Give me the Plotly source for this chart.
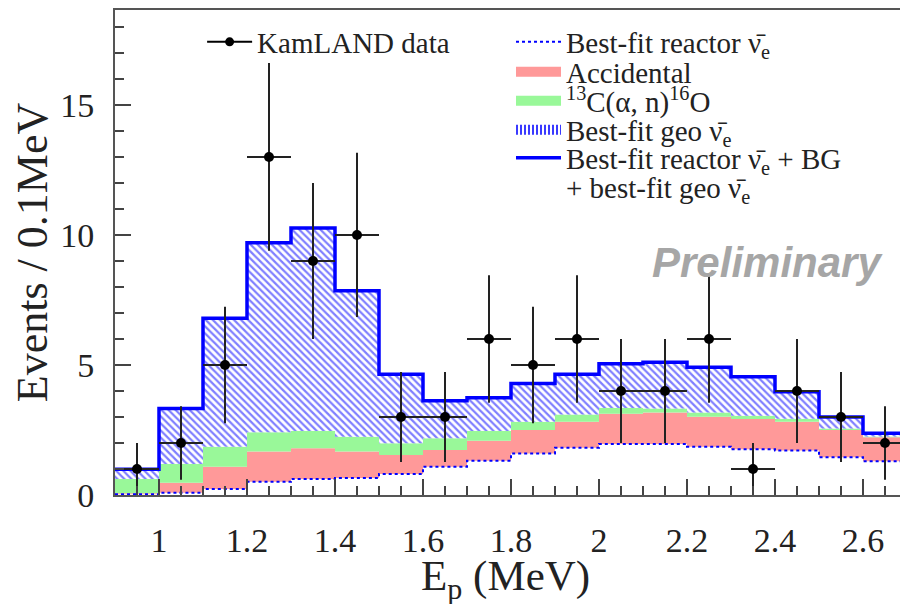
import plotly.graph_objects as go
import numpy as np

# ---- data ----
bin_edges = [0.9, 1.0, 1.1, 1.2, 1.3, 1.4, 1.5, 1.6, 1.7, 1.8, 1.9, 2.0,
             2.1, 2.2, 2.3, 2.4, 2.5, 2.6, 2.7]
bin_centers = [0.95, 1.05, 1.15, 1.25, 1.35, 1.45, 1.55, 1.65, 1.75, 1.85,
               1.95, 2.05, 2.15, 2.25, 2.35, 2.45, 2.55, 2.65]
data_counts = [1, 2, 5, 13, 9, 10, 3, 3, 6, 5, 6, 4, 4, 6, 1, 4, 3, 2]
data_err = [1.0, 1.41, 2.24, 3.61, 3.0, 3.16, 1.73, 1.73, 2.45, 2.24, 2.45,
            2.0, 2.0, 2.45, 1.0, 2.0, 1.73, 1.41]
half_bin = [0.05] * 18

reactor = [0.03, 0.09, 0.23, 0.51, 0.62, 0.65, 0.81, 1.09, 1.32, 1.60, 1.82,
           1.96, 1.96, 1.86, 1.76, 1.71, 1.45, 1.30]
accidental = [0.04, 0.38, 0.86, 1.16, 1.18, 1.02, 0.73, 0.64, 0.77, 0.90, 1.00,
              1.16, 1.21, 1.15, 1.16, 1.11, 1.05, 0.92]
c13 = [0.55, 0.72, 0.77, 0.74, 0.66, 0.57, 0.45, 0.45, 0.37, 0.32, 0.28,
       0.23, 0.16, 0.16, 0.13, 0.11, 0.06, 0.03]
geo = [0.37, 2.14, 4.94, 7.29, 7.81, 5.61, 2.65, 1.44, 1.28, 1.47, 1.54,
       1.70, 1.77, 1.74, 1.50, 1.04, 0.44, 0.12]

x_ticks = [1, 1.2, 1.4, 1.6, 1.8, 2, 2.2, 2.4, 2.6]
y_ticks = [0, 5, 10, 15]

# ---- derived stacks ----
lvl_react = np.array(reactor)
lvl_acc = lvl_react + np.array(accidental)
lvl_c13 = lvl_acc + np.array(c13)
lvl_tot = lvl_c13 + np.array(geo)


def step(vals):
    v = list(vals)
    return v + [v[-1]]


SERIF = "Liberation Serif"
BLUE = "#0000ff"
RED = "#ff9999"
GREEN = "#99f899"
TXT = "#222222"

fig = go.Figure()

# base for the stacked fills
fig.add_trace(go.Scatter(x=bin_edges, y=step(lvl_react), mode="lines",
                         line=dict(width=0, shape="hv"), showlegend=False,
                         hoverinfo="skip"))
fig.add_trace(go.Scatter(x=bin_edges, y=step(lvl_acc), mode="lines",
                         line=dict(width=0, shape="hv"), fill="tonexty",
                         fillcolor=RED, showlegend=False))
fig.add_trace(go.Scatter(x=bin_edges, y=step(lvl_c13), mode="lines",
                         line=dict(width=0, shape="hv"), fill="tonexty",
                         fillcolor=GREEN, showlegend=False))
fig.add_trace(go.Scatter(x=bin_edges, y=step(lvl_tot), mode="lines",
                         line=dict(width=0, shape="hv"), fill="tonexty",
                         fillcolor="white",
                         fillpattern=dict(shape="\\", fgcolor=BLUE,
                                          bgcolor="white", size=5,
                                          solidity=0.45),
                         showlegend=False))
# reactor dashed line
fig.add_trace(go.Scatter(x=bin_edges, y=step(lvl_react), mode="lines",
                         line=dict(width=2, shape="hv", color=BLUE,
                                   dash="dot"),
                         name="Best-fit reactor ν̄<sub>e</sub>",
                         legend="legend2"))
# total line
fig.add_trace(go.Scatter(x=bin_edges, y=step(lvl_tot), mode="lines",
                         line=dict(width=3.5, shape="hv", color=BLUE),
                         name="Best-fit reactor ν̄<sub>e</sub> + BG",
                         legend="legend6"))
# data
fig.add_trace(go.Scatter(x=bin_centers, y=data_counts, mode="markers",
                         marker=dict(color="black", size=10),
                         error_y=dict(type="data", array=data_err,
                                      color=TXT, thickness=2, width=0),
                         error_x=dict(type="data", array=half_bin,
                                      color=TXT, thickness=2, width=0),
                         showlegend=False))

# legend keys (no data of their own)
fig.add_trace(go.Scatter(x=[None], y=[None], mode="lines+markers",
                         line=dict(color="black", width=2),
                         marker=dict(color="black", size=9),
                         name="KamLAND data", legend="legend"))
fig.add_trace(go.Scatter(x=[None], y=[None], mode="lines",
                         line=dict(color=RED, width=20),
                         name="Accidental", legend="legend3"))
fig.add_trace(go.Scatter(x=[None], y=[None], mode="lines",
                         line=dict(color=GREEN, width=20),
                         name="<sup>13</sup>C(α, n)<sup>16</sup>O",
                         legend="legend4"))
fig.add_trace(go.Scatter(x=[None], y=[None], mode="lines",
                         line=dict(color="#3a3aff", width=20, dash="2px,2px"),
                         name="Best-fit geo ν̄<sub>e</sub>",
                         legend="legend5"))
fig.add_trace(go.Scatter(x=[None], y=[None], mode="lines",
                         line=dict(color="white", width=0),
                         name="+ best-fit geo ν̄<sub>e</sub>",
                         legend="legend7"))


def paper_y(py):
    return (495 - py) / 485


def paper_x(px):
    return (px - 115) / 792


def legend_box(x, py):
    return dict(x=x, y=paper_y(py), xanchor="left", yanchor="middle",
                bgcolor="rgba(0,0,0,0)", borderwidth=0, itemwidth=45,
                font=dict(family=SERIF, size=29, color=TXT),
                tracegroupgap=0)


# the page adds an 8px body margin, so the figure is offset by 8px
fig.update_layout(
    width=908, height=604,
    margin=dict(l=107, r=9, t=2, b=117, autoexpand=False),
    paper_bgcolor="white", plot_bgcolor="white",
    font=dict(family=SERIF, color=TXT),
    legend=legend_box(0.11, 42),
    legend2=legend_box(0.50, 42),
    legend3=legend_box(0.50, 72),
    legend4=legend_box(0.50, 101),
    legend5=legend_box(0.50, 130),
    legend6=legend_box(0.50, 158),
    legend7=legend_box(0.50, 187),
    xaxis=dict(range=[0.9, 2.7], tickvals=x_ticks,
               ticktext=[f"{t:g}" for t in x_ticks],
               ticks="inside", ticklen=16, tickwidth=1.5, tickcolor="#444",
               minor=dict(dtick=0.05, tick0=0.9, ticks="inside", ticklen=9,
                          tickwidth=1.5, tickcolor="#444"),
               showline=True, linecolor="#555", linewidth=2, mirror=True,
               showgrid=False, zeroline=False, automargin=False,
               tickfont=dict(family=SERIF, size=34, color=TXT),
               ticklabelstandoff=14),
    yaxis=dict(range=[0, 18.65], tickvals=y_ticks,
               ticks="inside", ticklen=16, tickwidth=1.5, tickcolor="#444",
               minor=dict(dtick=1, tick0=0, ticks="inside", ticklen=9,
                          tickwidth=1.5, tickcolor="#444"),
               showline=True, linecolor="#555", linewidth=2, mirror=True,
               showgrid=False, zeroline=False, automargin=False,
               tickfont=dict(family=SERIF, size=34, color=TXT),
               ticklabelstandoff=12,
               title=dict(text="Events / 0.1MeV",
                          font=dict(family=SERIF, size=44, color=TXT),
                          standoff=0)),
    annotations=[
        dict(text="<b><i>Preliminary</i></b>", xref="paper", yref="paper",
             x=paper_x(767), y=paper_y(263), xanchor="center",
             yanchor="middle", showarrow=False,
             font=dict(family="Liberation Sans", size=42, color="#a6a6a6")),
        dict(text="E<sub>p</sub> (MeV)", xref="paper", yref="paper",
             x=paper_x(505), y=paper_y(579), xanchor="center",
             yanchor="middle", showarrow=False,
             font=dict(family=SERIF, size=43, color=TXT)),
    ],
)

fig.write_html("out.html")
